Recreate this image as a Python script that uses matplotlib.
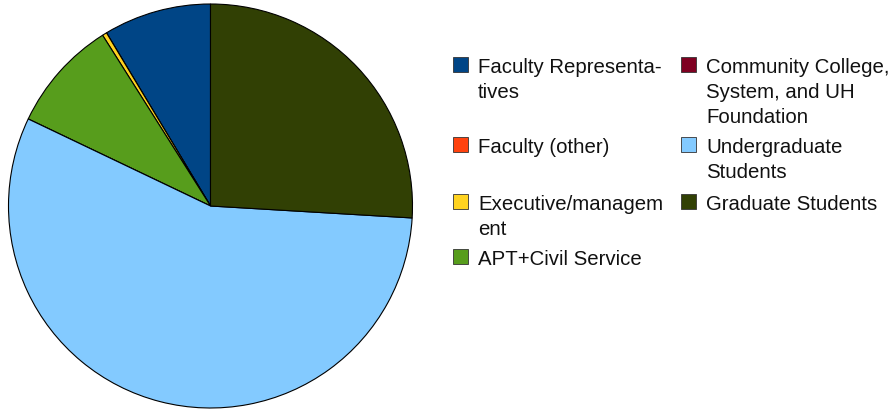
import matplotlib
matplotlib.use("Agg")
import matplotlib.pyplot as plt
from matplotlib.patches import Rectangle

categories = [
    "Faculty Representa-\ntives",
    "Faculty (other)",
    "Executive/managem\nent",
    "APT+Civil Service",
    "Community College,\nSystem, and UH\nFoundation",
    "Undergraduate\nStudents",
    "Graduate Students",
]
values = [8.61, 0.0, 0.36, 8.94, 0.0, 56.14, 25.94]
colors = ["#004586", "#ff420e", "#ffd320", "#579d1c", "#7e0021", "#83caff", "#314004"]

W, H = 895, 410
fig = plt.figure(figsize=(W / 100, H / 100), dpi=100)

cx, cy, r = 210.5, 207, 202
ax = fig.add_axes([(cx - r) / W, (H - cy - r) / H, 2 * r / W, 2 * r / H])
ax.pie(values, colors=colors, startangle=90, counterclock=True, radius=1,
       wedgeprops=dict(edgecolor="black", linewidth=0.8))
ax.set_xlim(-1, 1)
ax.set_ylim(-1, 1)
ax.set_aspect("equal")
ax.axis("off")

# legend: two columns, rows aligned
font = dict(family=["Liberation Sans", "DejaVu Sans"], size=14.7, color="#111111")
col_x = [453, 681]
row_base = [73, 153, 210, 265]
layout = [(0, 0), (0, 1), (0, 2), (0, 3), (1, 0), (1, 1), (1, 2)]
line_h = 25
for lab, col, (c, rr) in zip(categories, colors, layout):
    x = col_x[c]
    yb = row_base[rr]
    fig.patches.append(Rectangle((x / W, 1 - (yb) / H), 15 / W, 15 / H,
                                 transform=fig.transFigure, facecolor=col,
                                 edgecolor="#333333", linewidth=0.6))
    for i, line in enumerate(lab.split("\n")):
        fig.text((x + 25) / W, 1 - (yb + i * line_h) / H, line,
                 ha="left", va="baseline", **font)

fig.savefig("out.png", dpi=100)
